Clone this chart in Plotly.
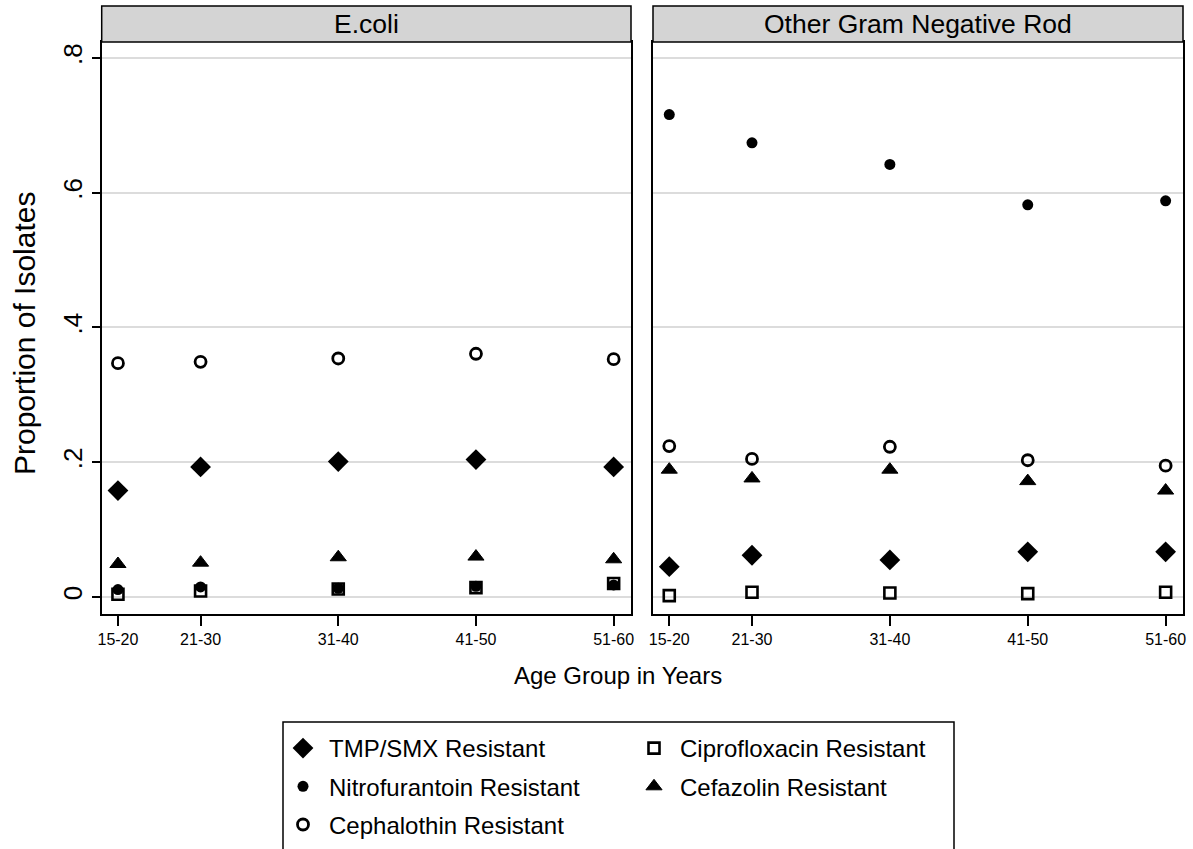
import plotly.graph_objects as go

W, H = 1193, 849

# ---- data ----
age_pos = [15, 21, 31, 41, 51]
age_labels = ["15-20", "21-30", "31-40", "41-50", "51-60"]
panels = ["E.coli", "Other Gram Negative Rod"]

ecoli_tmp = [0.158, 0.193, 0.201, 0.204, 0.193]
ecoli_cipro = [0.004, 0.009, 0.012, 0.014, 0.020]
ecoli_nitro = [0.011, 0.015, 0.013, 0.016, 0.018]
ecoli_cefa = [0.049, 0.051, 0.059, 0.060, 0.056]
ecoli_ceph = [0.347, 0.349, 0.354, 0.361, 0.353]

gnr_tmp = [0.045, 0.062, 0.055, 0.067, 0.067]
gnr_cipro = [0.002, 0.007, 0.006, 0.005, 0.007]
gnr_nitro = [0.716, 0.674, 0.642, 0.582, 0.588]
gnr_cefa = [0.189, 0.176, 0.189, 0.172, 0.158]
gnr_ceph = [0.224, 0.205, 0.223, 0.203, 0.195]

y_ticks = [0, 0.2, 0.4, 0.6, 0.8]
y_ticklabels = ["0", ".2", ".4", ".6", ".8"]

series = [
    ("TMP/SMX Resistant", ecoli_tmp, gnr_tmp, dict(symbol="diamond", size=16, color="black", line=dict(width=0)), "legend"),
    ("Ciprofloxacin Resistant", ecoli_cipro, gnr_cipro, dict(symbol="square-open", size=11, color="black", line=dict(width=2.6, color="black")), "legend2"),
    ("Nitrofurantoin Resistant", ecoli_nitro, gnr_nitro, dict(symbol="circle", size=11, color="black", line=dict(width=0)), "legend"),
    ("Cefazolin Resistant", ecoli_cefa, gnr_cefa, dict(symbol="triangle-up", size=14, color="black", line=dict(width=1, color="black")), "legend2"),
    ("Cephalothin Resistant", ecoli_ceph, gnr_ceph, dict(symbol="circle-open", size=11, color="black", line=dict(width=2.8, color="black")), "legend"),
]

FONT = "Liberation Sans, Arial, Helvetica, sans-serif"


def xp(px):
    return px / W


def yp(py):
    return 1 - py / H


fig = go.Figure()
for name, ev, gv, mk, lg in series:
    fig.add_trace(go.Scatter(x=age_pos, y=ev, mode="markers", name=name, marker=mk,
                             legendgroup=name, showlegend=True, legend=lg,
                             xaxis="x", yaxis="y"))
    fig.add_trace(go.Scatter(x=age_pos, y=gv, mode="markers", name=name, marker=mk,
                             legendgroup=name, showlegend=False, legend=lg,
                             xaxis="x2", yaxis="y2"))

L1, R1, L2, R2 = 101.7, 631, 653, 1183
TOP, BOT = 42, 614
xr = [13.82, 52.26]
yr = [-0.0252, 0.8237]

xcommon = dict(range=xr, tickmode="array", tickvals=age_pos, ticktext=age_labels,
               ticks="outside", ticklen=10, tickwidth=1.5, tickcolor="black",
               showline=True, mirror=True, linecolor="black", linewidth=1.5,
               showgrid=False, zeroline=False,
               tickfont=dict(family=FONT, size=16, color="black"))
ycommon = dict(range=yr, tickmode="array", tickvals=y_ticks, ticktext=y_ticklabels,
               showline=True, mirror=True, linecolor="black", linewidth=1.5,
               showgrid=True, gridcolor="#dcdcdc", gridwidth=1.5, zeroline=False,
               domain=[yp(BOT), yp(TOP)])

legend_common = dict(orientation="v", xanchor="left", yanchor="top", y=yp(726),
                     bgcolor="rgba(0,0,0,0)", borderwidth=0, tracegroupgap=4, itemwidth=42,
                     font=dict(family=FONT, size=24, color="black"))

fig.update_layout(
    width=W, height=H,
    margin=dict(l=0, r=0, t=0, b=0, autoexpand=False),
    paper_bgcolor="white", plot_bgcolor="white",
    font=dict(family=FONT, color="black"),
    xaxis=dict(domain=[xp(L1), xp(R1)], anchor="y", **xcommon),
    xaxis2=dict(domain=[xp(L2), xp(R2)], anchor="y2", **xcommon),
    yaxis=dict(anchor="x", ticks="outside", ticklen=8, tickwidth=1.5, tickcolor="black",
               tickangle=-90, tickfont=dict(family=FONT, size=26, color="black"), **ycommon),
    yaxis2=dict(anchor="x2", ticks="", showticklabels=False, matches="y", **ycommon),
    legend=dict(x=xp(277), **legend_common),
    legend2=dict(x=xp(628), **legend_common),
)

shapes = []
annotations = []
for (l, r), title in zip([(L1, R1), (L2, R2)], panels):
    shapes.append(dict(type="rect", xref="paper", yref="paper",
                       x0=xp(l), x1=xp(r), y0=yp(TOP), y1=yp(6),
                       fillcolor="#d4d4d4", line=dict(color="black", width=1.5), layer="above"))
    annotations.append(dict(text=title, xref="paper", yref="paper", x=xp((l + r) / 2), y=yp(24),
                            xanchor="center", yanchor="middle", showarrow=False,
                            font=dict(family=FONT, size=26.5, color="black")))

# legend frame (extends past the bottom edge as in the reference)
shapes.append(dict(type="rect", xref="paper", yref="paper",
                   x0=xp(283), x1=xp(954), y0=yp(722), y1=yp(880),
                   fillcolor="rgba(0,0,0,0)", line=dict(color="black", width=1.5)))

annotations.append(dict(text="Age Group in Years", xref="paper", yref="paper",
                        x=xp(618), y=yp(675), xanchor="center", yanchor="middle", showarrow=False,
                        font=dict(family=FONT, size=24, color="black")))
annotations.append(dict(text="Proportion of Isolates", xref="paper", yref="paper",
                        x=xp(24), y=yp(333), xanchor="center", yanchor="middle", showarrow=False,
                        textangle=-90, font=dict(family=FONT, size=30, color="black")))

fig.update_layout(shapes=shapes, annotations=annotations)
fig.write_html("out.html")
